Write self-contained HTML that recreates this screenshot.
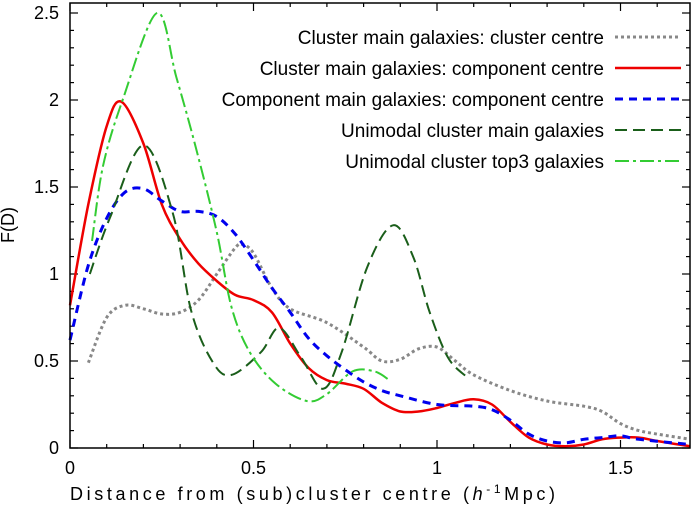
<!DOCTYPE html>
<html><head><meta charset="utf-8"><style>
body{margin:0;background:#fff;}
svg{display:block;font-family:"Liberation Sans",sans-serif;}
</style></head><body>
<svg id="chart" width="692" height="511">
<g id="grid"></g><g id="series"></g><g id="legend"></g>
<rect x="70" y="3" width="620" height="445" fill="none" stroke="#000" stroke-width="1.5"/>
<text x="70" y="500" font-size="18" textLength="485" lengthAdjust="spacing">Distance from (sub)cluster centre  (<tspan font-style="italic">h</tspan><tspan font-size="12" dy="-7">-1</tspan><tspan dy="7">Mpc)</tspan></text>
<text x="14" y="225" font-size="18" text-anchor="middle" transform="rotate(-90 14 225)">F(D)</text>
</svg>
<script>
const xTicks=[0,0.5,1,1.5];
const xTickLabels=["0","0.5","1","1.5"];
const yTicks=[0,0.5,1,1.5,2,2.5];
const yTickLabels=["0","0.5","1","1.5","2","2.5"];
const grayX=[0.05,0.1,0.15,0.2,0.25,0.3,0.35,0.4,0.45,0.47,0.5,0.55,0.6,0.7,0.8,0.85,0.9,0.95,1.0,1.05,1.1,1.2,1.3,1.4,1.45,1.5,1.55,1.6,1.69];
const grayY=[0.49,0.75,0.82,0.80,0.77,0.78,0.85,1.0,1.15,1.17,1.12,0.92,0.80,0.72,0.58,0.50,0.51,0.57,0.58,0.50,0.42,0.33,0.27,0.24,0.21,0.14,0.10,0.08,0.05];
const redX=[0,0.05,0.1,0.14,0.2,0.25,0.3,0.35,0.4,0.45,0.5,0.55,0.6,0.65,0.7,0.75,0.8,0.85,0.9,0.95,1.0,1.05,1.1,1.15,1.2,1.25,1.3,1.35,1.4,1.45,1.5,1.55,1.6,1.69];
const redY=[0.82,1.4,1.85,1.99,1.75,1.4,1.2,1.06,0.96,0.88,0.85,0.78,0.6,0.46,0.39,0.37,0.34,0.26,0.21,0.21,0.23,0.26,0.28,0.25,0.15,0.06,0.02,0.01,0.02,0.05,0.06,0.06,0.04,0.01];
const blueX=[0,0.05,0.1,0.15,0.2,0.25,0.3,0.35,0.4,0.45,0.5,0.55,0.6,0.65,0.7,0.75,0.8,0.85,0.9,1.0,1.1,1.15,1.2,1.25,1.3,1.35,1.4,1.45,1.5,1.55,1.69];
const blueY=[0.62,1.05,1.32,1.47,1.49,1.42,1.36,1.36,1.33,1.23,1.08,0.92,0.78,0.63,0.53,0.45,0.38,0.33,0.30,0.25,0.24,0.22,0.16,0.08,0.04,0.03,0.05,0.06,0.07,0.05,0.02];
const dgreenX=[0.054,0.11,0.2,0.28,0.33,0.39,0.44,0.52,0.57,0.63,0.69,0.74,0.81,0.88,0.935,0.98,1.03,1.08];
const dgreenY=[1.0,1.33,1.74,1.35,0.79,0.49,0.42,0.55,0.69,0.52,0.34,0.55,1.04,1.28,1.10,0.78,0.52,0.41];
const lgreenX=[0.06,0.09,0.145,0.237,0.29,0.345,0.40,0.44,0.49,0.56,0.645,0.70,0.77,0.83,0.87];
const lgreenY=[1.19,1.62,2.01,2.5,2.13,1.71,1.24,0.81,0.55,0.37,0.27,0.31,0.44,0.44,0.39];
const seriesNames=["Cluster main galaxies: cluster centre","Cluster main galaxies: component centre","Component main galaxies: component centre","Unimodal cluster main galaxies","Unimodal cluster top3 galaxies"];

const NS="http://www.w3.org/2000/svg";
const sx=v=>70+v*367, sy=v=>448-v*174;
function mk(tag,attrs,parent){const e=document.createElementNS(NS,tag);for(const k in attrs)e.setAttribute(k,attrs[k]);parent.appendChild(e);return e;}
const grid=document.getElementById('grid');
for(let i=0;i<=16;i++){const v=i/10;const x=sx(v);const major=i%5===0;const L=major?8:4;
 const t1=mk('line',{x1:x,x2:x,y1:448,y2:448-L,stroke:'#000','stroke-width':1.2},grid);
 
 
 const t2=mk('line',{x1:x,x2:x,y1:3,y2:3+L,stroke:'#000','stroke-width':1.2},grid);
 
 }
for(let i=0;i<=25;i++){const v=i/10;const y=sy(v);const major=i%5===0;const L=major?8:4;
 const t1=mk('line',{x1:70,x2:70+L,y1:y,y2:y,stroke:'#000','stroke-width':1.2},grid);
 
 
 const t2=mk('line',{x1:690,x2:690-L,y1:y,y2:y,stroke:'#000','stroke-width':1.2},grid);
 
 }
xTicks.forEach((v,i)=>{const t=mk('text',{x:sx(v),y:474,'font-size':18,'text-anchor':'middle'},grid);t.textContent=xTickLabels[i];
 
 });
yTicks.forEach((v,i)=>{const t=mk('text',{x:59,y:sy(v)+6,'font-size':18,'text-anchor':'end'},grid);t.textContent=yTickLabels[i];
 
 });
function pathD(X,Y){const p=X.map((x,i)=>[sx(x),sy(Y[i])]);let d='M'+p[0][0]+','+p[0][1];
 for(let i=0;i<p.length-1;i++){const p0=p[i-1]||p[i],p1=p[i],p2=p[i+1],p3=p[i+2]||p2;
  const c1=[p1[0]+(p2[0]-p0[0])/6,p1[1]+(p2[1]-p0[1])/6],c2=[p2[0]-(p3[0]-p1[0])/6,p2[1]-(p3[1]-p1[1])/6];
  d+=`C${c1[0].toFixed(1)},${c1[1].toFixed(1)} ${c2[0].toFixed(1)},${c2[1].toFixed(1)} ${p2[0].toFixed(1)},${p2[1].toFixed(1)}`;}
 return d;}
const styles=[
 {X:grayX,Y:grayY,c:'#888',w:3,da:'3,3',n:'series-cluster-centre'},
 {X:redX,Y:redY,c:'#e00',w:2.5,da:'',n:'series-cluster-component-centre'},
 {X:blueX,Y:blueY,c:'#00e',w:3,da:'8,6',n:'series-component-component-centre'},
 {X:dgreenX,Y:dgreenY,c:'#1a5e1a',w:2,da:'12,6',n:'series-unimodal-main'},
 {X:lgreenX,Y:lgreenY,c:'#3c3',w:2,da:'14,4,3,4',n:'series-unimodal-top3'}];
const sg=document.getElementById('series'),lg=document.getElementById('legend');
styles.forEach((s,i)=>{
 const p=mk('path',{d:pathD(s.X,s.Y),fill:'none',stroke:s.c,'stroke-width':s.w,'stroke-dasharray':s.da},sg);
 
 
 const y=37+i*31;
 const t=mk('text',{x:604,y:y+7,'font-size':19,'text-anchor':'end'},lg);t.textContent=seriesNames[i];
 
 
 const l=mk('line',{x1:615,x2:681,y1:y,y2:y,stroke:s.c,'stroke-width':s.w,'stroke-dasharray':s.da},lg);
 
 
});
</script>
</body></html>
